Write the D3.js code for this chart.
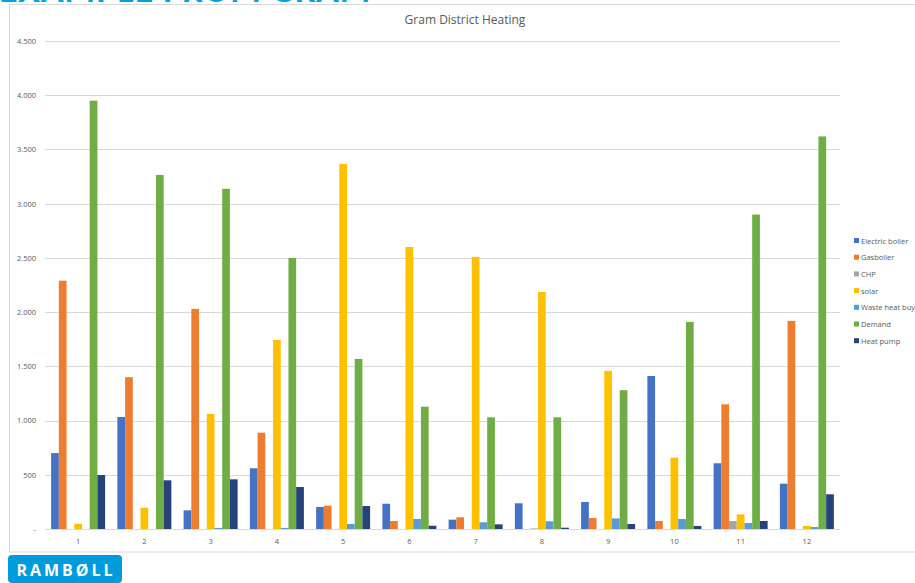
<!DOCTYPE html>
<html>
<head>
<meta charset="utf-8">
<script src="https://cdn.jsdelivr.net/npm/d3@7"></script>
<style>
body{margin:0;background:#fff;}
svg{display:block;}
</style>
</head>
<body>
<svg id="chart" width="915" height="583"></svg>
<script>
const months = ["1","2","3","4","5","6","7","8","9","10","11","12"];
const seriesNames = ["Electric boiler","Gasboiler","CHP","solar","Waste heat buy","Demand","Heat pump"];
const electricBoiler = [700,1033,172,560,203,233,86,237,249,1411,606,418];
const gasboiler      = [2290,1400,2030,888,215,74,108,0,101,74,1150,1919];
const chp            = [0,0,0,0,0,0,0,5,0,0,74,0];
const solar          = [48,196,1061,1744,3367,2601,2509,2186,1458,658,135,28];
const wasteHeatBuy   = [0,0,10,10,46,92,62,71,98,92,55,18];
const demand         = [3950,3265,3137,2500,1568,1128,1030,1030,1280,1910,2900,3620];
const heatPump       = [498,449,458,387,212,30,43,12,46,28,74,320];
const yTicks = [0,500,1000,1500,2000,2500,3000,3500,4000,4500];
const colors = ["#4472C4","#ED7D31","#A5A5A5","#FFC000","#5B9BD5","#70AD47","#264478"];

const seriesValues = [electricBoiler,gasboiler,chp,solar,wasteHeatBuy,demand,heatPump];

const svg = d3.select("#chart");
const fmt = v => v === 0 ? "-" : d3.format(",")(v).replace(/,/g, ".");

// big heading (cut off at top, as in the reference slide)
svg.append("text")
  .attr("x", -1).attr("y", 2)
  .attr("font-family", "Lato, 'Open Sans', sans-serif")
  .attr("font-weight", 900)
  .attr("font-size", 32)
  .attr("letter-spacing", 1)
  .attr("fill", "#00A3E0")
  .text("EXAMPLE FROM GRAM");

// chart frame
svg.append("rect")
  .attr("x", 9.5).attr("y", 4.5)
  .attr("width", 910).attr("height", 547.5)
  .attr("fill", "#fff")
  .attr("stroke", "#d9d9d9").attr("stroke-width", 1);

const plot = {left: 45, right: 840, top: 41, bottom: 529};

const y = d3.scaleLinear().domain([0, 4500]).range([plot.bottom, plot.top]);
const x0 = d3.scaleBand().domain(months).range([plot.left, plot.right]).paddingInner(0.185).paddingOuter(0.0925);
const x1 = d3.scaleBand().domain(seriesNames).range([0, x0.bandwidth()]).padding(0);

// gridlines
svg.append("g").selectAll("line").data(yTicks).join("line")
  .attr("x1", plot.left).attr("x2", plot.right)
  .attr("y1", d => Math.round(y(d)) + 0.5).attr("y2", d => Math.round(y(d)) + 0.5)
  .attr("stroke", "#d9d9d9").attr("stroke-width", 1);

// y axis labels
const yAxis = d3.axisLeft(y).tickValues(yTicks).tickFormat(fmt).tickSize(0).tickPadding(0);
const yg = svg.append("g").attr("transform", `translate(36,0)`).call(yAxis);
yg.select(".domain").remove();
yg.selectAll("text")
  .attr("font-family", "'Open Sans', 'Noto Sans', sans-serif")
  .attr("font-size", 7.5).attr("fill", "#595959");

// bars
const groups = svg.append("g").selectAll("g").data(months).join("g")
  .attr("transform", d => `translate(${x0(d)},0)`);
groups.selectAll("rect")
  .data((m, i) => seriesNames.map((s, j) => ({s, j, v: seriesValues[j][i]})))
  .join("rect")
  .attr("x", d => x1(d.s))
  .attr("width", x1.bandwidth())
  .attr("y", d => y(d.v))
  .attr("height", d => y(0) - y(d.v))
  .attr("fill", d => colors[d.j]);

// x axis labels
const xAxis = d3.axisBottom(x0).tickSize(0).tickPadding(0);
const xg = svg.append("g").attr("transform", `translate(0,539)`).call(xAxis);
xg.select(".domain").remove();
xg.selectAll("text")
  .attr("font-family", "'Open Sans', 'Noto Sans', sans-serif")
  .attr("font-size", 7.5).attr("fill", "#595959");

// title
svg.append("text")
  .attr("x", 465).attr("y", 24)
  .attr("text-anchor", "middle")
  .attr("font-family", "'Open Sans', 'Noto Sans', sans-serif")
  .attr("font-size", 12)
  .attr("fill", "#595959")
  .text("Gram District Heating");

// legend
const lg = svg.append("g").selectAll("g").data(seriesNames).join("g")
  .attr("transform", (d, i) => `translate(854,${241 + i * 16.7})`);
lg.append("rect").attr("x", 0).attr("y", -3).attr("width", 5).attr("height", 5)
  .attr("fill", (d, i) => colors[i]);
lg.append("text").attr("x", 7).attr("y", 2.5)
  .attr("font-family", "'Open Sans', 'Noto Sans', sans-serif")
  .attr("font-size", 7.5).attr("fill", "#595959")
  .text(d => d);

// logo
svg.append("rect")
  .attr("x", 8).attr("y", 555).attr("width", 114).attr("height", 28).attr("rx", 4)
  .attr("fill", "#009BDB");
svg.append("text")
  .attr("x", 66).attr("y", 576)
  .attr("text-anchor", "middle")
  .attr("font-family", "'Open Sans', 'Noto Sans', sans-serif")
  .attr("font-weight", 700)
  .attr("font-size", 16)
  .attr("letter-spacing", 3)
  .attr("fill", "#fff")
  .text("RAMBØLL");
</script>
</body>
</html>
